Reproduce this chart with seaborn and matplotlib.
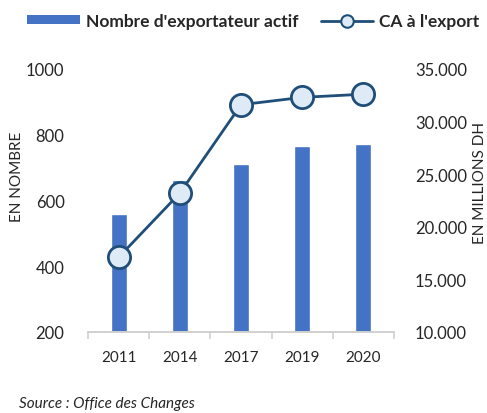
import pandas as pd
import matplotlib.pyplot as plt
import seaborn as sns
import numpy as np
from matplotlib.patches import Patch
from matplotlib.lines import Line2D

# données
years = ['2011', '2014', '2017', '2019', '2020']
nb_exportateurs = [560, 662, 711, 767, 771]
ca_export = [17100, 23200, 31600, 32300, 32600]

df = pd.DataFrame({'annee': years, 'nombre': nb_exportateurs, 'ca': ca_export})
df['pos'] = np.arange(len(df))

sns.set_theme(style='white')
plt.rcParams['font.family'] = ['Lato', 'DejaVu Sans']

bar_color = '#4472C4'
line_color = '#1F4E79'
txt_color = '#262626'

fig = plt.figure(figsize=(4.87, 4.14), dpi=100)
ax = fig.add_axes([0.181, 0.196, 0.628, 0.635])

# barres : nombre d'exportateurs
sns.barplot(data=df, x='annee', y='nombre', color=bar_color, width=0.26,
            saturation=1, ax=ax)
ax.set_ylim(200, 1000)
ax.set_yticks([200, 400, 600, 800, 1000])
ax.set_xlim(-0.5, len(years) - 0.5)
ax.set_xlabel('')
ax.set_ylabel('')

# ligne : CA à l'export
ax2 = ax.twinx()
sns.lineplot(data=df, x='pos', y='ca', color=line_color, linewidth=2,
             marker='o', markersize=16, markerfacecolor='#DEEBF7',
             markeredgecolor=line_color, markeredgewidth=2, ax=ax2)
ax2.set_ylim(10000, 35000)
ax2.set_yticks([10000, 15000, 20000, 25000, 30000, 35000])
ax2.set_yticklabels(['10.000', '15.000', '20.000', '25.000', '30.000', '35.000'])
ax2.set_ylabel('')
ax2.set_xlim(-0.5, len(years) - 0.5)

for a in (ax, ax2):
    for s in ['top', 'left', 'right']:
        a.spines[s].set_visible(False)
    a.spines['bottom'].set_color('#D0D0D0')
    a.spines['bottom'].set_linewidth(1.2)

ax.tick_params(axis='y', length=0, pad=17, labelsize=12, labelcolor=txt_color)
ax2.tick_params(axis='y', length=0, pad=15, labelsize=12, labelcolor=txt_color)

# graduations de l'axe x entre les catégories
ax.set_xticks(np.arange(-0.5, len(years)), minor=True)
ax.tick_params(axis='x', which='minor', length=5, width=1.2, color='#D0D0D0',
               bottom=True)
ax.tick_params(axis='x', which='major', length=0, pad=13, labelsize=11,
               labelcolor=txt_color)

# titres des axes
fig.text(17 / 487, 1 - 177 / 414, 'EN NOMBRE', rotation=90, ha='center',
         va='center', fontsize=11, color=txt_color)
fig.text(480 / 487, 1 - 183 / 414, 'EN MILLIONS DH', rotation=90, ha='center',
         va='center', fontsize=11, color=txt_color)

# légende
handles = [Patch(facecolor=bar_color, edgecolor='none'),
           Line2D([0], [0], color=line_color, linewidth=2, marker='o',
                  markersize=9, markerfacecolor='#DEEBF7',
                  markeredgecolor=line_color, markeredgewidth=1.5)]
labels = ["Nombre d'exportateur actif", "CA à l'export"]
fig.legend(handles, labels, loc='center', bbox_to_anchor=(0.52, 0.947), ncol=2,
           frameon=False, handlelength=3.0, handleheight=0.45,
           columnspacing=1.3, handletextpad=0.35,
           prop={'weight': 'bold', 'size': 12.5})

fig.text(19 / 487, 1 - 404 / 414, 'Source : Office des Changes', style='italic',
         fontsize=11, color=txt_color, va='center')

fig.savefig('out.png', dpi=100)
